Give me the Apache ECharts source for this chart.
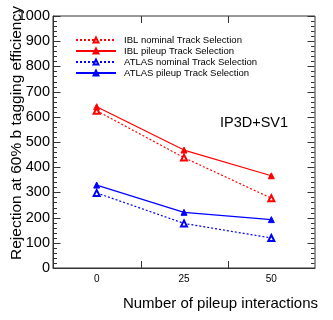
<!DOCTYPE html>
<html>
<head>
<meta charset="utf-8">
<script src="https://cdn.jsdelivr.net/npm/echarts@6/dist/echarts.min.js"></script>
<style>
html, body { margin: 0; padding: 0; background: #fff; }
#main { width: 333px; height: 320px; }
</style>
</head>
<body>
<div id="main"></div>
<script>
// 数据
var pileup = ['0', '25', '50'];
var iblNominal = [624, 438, 277];
var iblPileup = [640, 468, 366];
var atlasNominal = [298, 177, 119];
var atlasPileup = [329, 221, 192];
var yTicks = [0, 1000, 100];

var chart = echarts.init(document.getElementById('main'));
var font = 'Liberation Sans, Arial, sans-serif';
var frame = '#333';

function mkSeries(name, data, color, dotted) {
    return {
        name: name,
        type: 'line',
        data: data,
        symbol: dotted ? 'emptyTriangle' : 'triangle',
        symbolSize: 6,
        lineStyle: { color: color, width: 1.2, type: dotted ? [2, 2] : 'solid' },
        itemStyle: { color: color, borderColor: color, borderWidth: 1 }
    };
}

function seg(x1, y1, x2, y2) {
    return { type: 'line', shape: { x1: x1, y1: y1, x2: x2, y2: y2 },
        style: { stroke: frame, lineWidth: 1 } };
}

// 边框上的刻度（朝内），位置由坐标轴换算
function frameTicks(params, api) {
    var children = [];
    var band = api.size([1, 0])[0];
    var x0 = Math.round(api.coord([0, 0])[0] - band / 2) + 0.5;
    var x1 = Math.round(api.coord([pileup.length - 1, 0])[0] + band / 2) - 0.5;
    var yb = api.coord([0, yTicks[0]])[1];
    var yt = api.coord([0, yTicks[1]])[1];
    var minor = yTicks[2] / 5;
    var n = Math.round((yTicks[1] - yTicks[0]) / minor);
    for (var k = 0; k <= n; k++) {
        var y = Math.round(api.coord([0, yTicks[0] + k * minor])[1]) + 0.5;
        var len = (k % 5 === 0) ? 7 : 3.5;
        children.push(seg(x0, y, x0 + len, y), seg(x1, y, x1 - len, y));
    }
    for (var i = 1; i < pileup.length; i++) {
        var x = Math.round(x0 + band * i) + 0.5;
        children.push(seg(x, yb, x, yb - 7), seg(x, yt, x, yt + 7));
    }
    return { type: 'group', children: children };
}

var option = {
    animation: false,
    grid: { left: 53, right: 18, top: 16, bottom: 52, show: true, borderColor: frame, borderWidth: 1 },
    legend: {
        orient: 'vertical',
        left: 70,
        top: 30,
        itemWidth: 40,
        itemHeight: 6,
        itemGap: 1,
        textStyle: { fontFamily: font, fontSize: 9.5, color: '#000', padding: [0, 0, 0, 3] },
        data: ['IBL nominal Track Selection', 'IBL pileup Track Selection',
            'ATLAS nominal Track Selection', 'ATLAS pileup Track Selection']
    },
    xAxis: {
        type: 'category',
        data: pileup,
        axisLine: { show: true, lineStyle: { color: frame } },
        axisTick: { show: false },
        axisLabel: { fontFamily: font, fontSize: 10, color: '#000', margin: 6 },
        splitLine: { show: false }
    },
    yAxis: {
        type: 'value',
        min: yTicks[0],
        max: yTicks[1],
        interval: yTicks[2],
        splitLine: { show: false },
        axisLine: { show: true, lineStyle: { color: frame } },
        axisTick: { show: false },
        axisLabel: { fontFamily: font, fontSize: 14.5, color: '#000', margin: 3,
            formatter: function (v) { return String(v); } }
    },
    graphic: [{
        type: 'text',
        left: 220,
        top: 115,
        style: { text: 'IP3D+SV1', fontFamily: font, fontSize: 14.5, fill: '#000' }
    }, {
        type: 'text',
        x: 17,
        y: 133,
        rotation: Math.PI / 2,
        style: {
            text: 'Rejection at 60% b tagging efficiency', fontFamily: font, fontSize: 15.5,
            fill: '#000', align: 'center', verticalAlign: 'middle'
        }
    }, {
        type: 'text',
        x: 318,
        y: 304,
        style: {
            text: 'Number of pileup interactions', fontFamily: font, fontSize: 15,
            fill: '#000', align: 'right', verticalAlign: 'middle'
        }
    }],
    series: [
        mkSeries('IBL nominal Track Selection', iblNominal, '#ff0000', true),
        mkSeries('IBL pileup Track Selection', iblPileup, '#ff0000', false),
        mkSeries('ATLAS nominal Track Selection', atlasNominal, '#0000ff', true),
        mkSeries('ATLAS pileup Track Selection', atlasPileup, '#0000ff', false),
        {
            type: 'custom',
            silent: true,
            clip: false,
            z: 1,
            data: [0],
            renderItem: frameTicks
        }
    ]
};
chart.setOption(option);
</script>
</body>
</html>
